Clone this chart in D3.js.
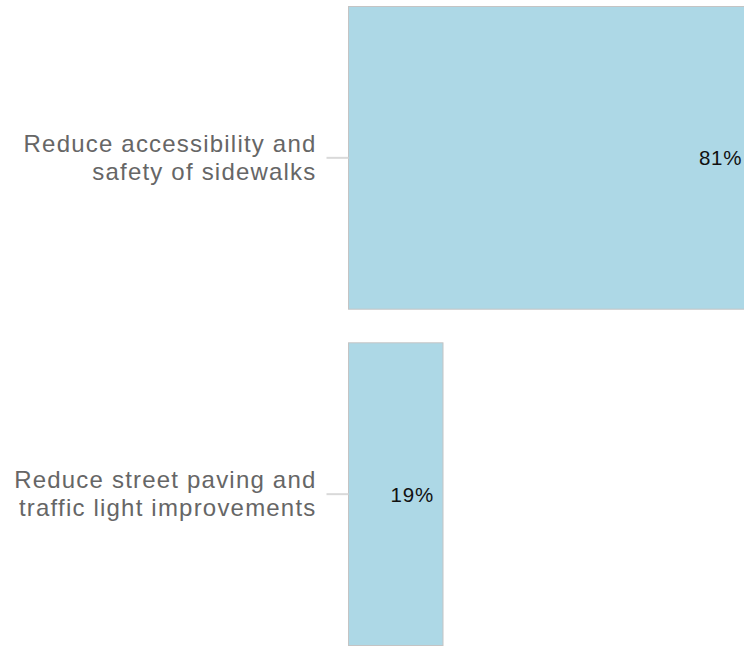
<!DOCTYPE html>
<html><head><meta charset="utf-8">
<script src="https://cdn.jsdelivr.net/npm/d3@7"></script>
<style>html,body{margin:0;padding:0;background:#fff;overflow:hidden;}</style>
</head><body>
<svg id="chart" width="744" height="647"></svg>
<script>
const categories = [["Reduce accessibility and","safety of sidewalks"],["Reduce street paving and","traffic light improvements"]];
const values = [81, 19];
const valueLabels = ["81%", "19%"];

(function(){
const svg = d3.select("#chart");
const mLeft = 348.5, mTop = 6.5, mBottom = 645.5;
const x = d3.scaleLinear().domain([0, 19]).range([mLeft, mLeft + 94.5]);
const y = d3.scaleBand().domain(d3.range(values.length)).range([mTop, mBottom]).paddingInner(0.1).paddingOuter(0);

svg.selectAll("rect.bar").data(values).join("rect")
  .attr("class","bar")
  .attr("x", x(0)).attr("y", (d,i)=>y(i))
  .attr("width", d=>x(d)-x(0)).attr("height", y.bandwidth())
  .attr("fill","#add8e6").attr("stroke","#c4c4c4").attr("stroke-width",1);

const yAxis = d3.axisLeft(y).tickSize(22).tickFormat("");
const g = svg.append("g").attr("transform",`translate(${mLeft},0)`).call(yAxis);
g.select(".domain").remove();
g.selectAll(".tick line").attr("stroke","#d9d9d9").attr("stroke-width",2);

categories.forEach((lines,i)=>{
  const cy = y(i)+y.bandwidth()/2;
  const t = svg.append("text").attr("text-anchor","end")
    .attr("font-family","Liberation Sans, Arial, sans-serif").attr("font-size",24)
    .attr("letter-spacing","1.2px").attr("fill","#666");
  lines.forEach((l,j)=>{
    t.append("tspan").attr("x",316.5).attr("y",cy + 8 + (j - (lines.length-1)/2)*28).text(l);
  });
});

svg.selectAll("text.val").data(values).join("text")
  .attr("class","val")
  .attr("x", d=>x(d)-9).attr("y",(d,i)=>y(i)+y.bandwidth()/2+7.5)
  .attr("text-anchor","end")
  .attr("font-family","Liberation Sans, Arial, sans-serif").attr("font-size",20.5)
  .attr("letter-spacing","0.8px").attr("fill","#111")
  .text((d,i)=>valueLabels[i]);
})();
</script>
</body></html>
